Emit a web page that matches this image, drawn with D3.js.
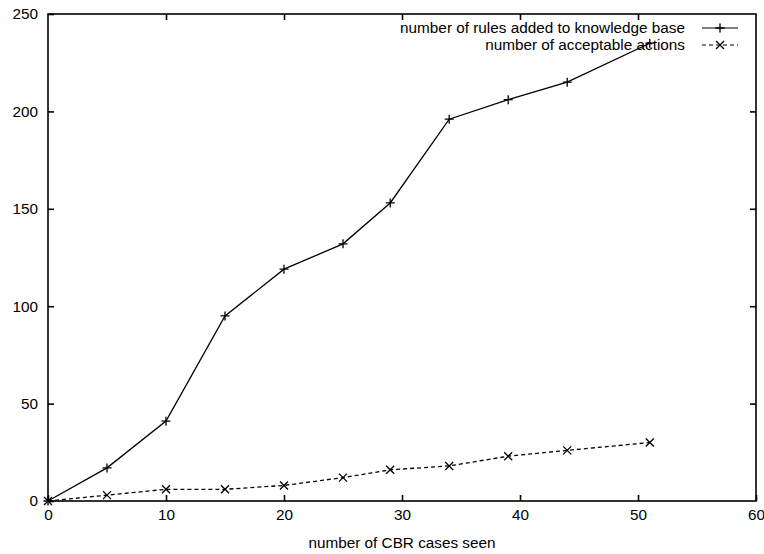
<!DOCTYPE html>
<html>
<head>
<meta charset="utf-8">
<script src="https://cdn.jsdelivr.net/npm/d3@7"></script>
<style>
  body { margin: 0; background: #fff; }
  text { font-family: "Liberation Sans", Arial, sans-serif; fill: #000; }
</style>
</head>
<body>
<div id="chart"></div>
<script>
// values
const casesSeen = [0, 5, 10, 15, 20, 25, 29, 34, 39, 44, 51]
const rulesAdded = [0, 17, 41, 95, 119, 132, 153, 196, 206, 215, 235]
const acceptableActions = [0, 3, 6, 6, 8, 12, 16, 18, 23, 26, 30]
const xTicks = [0, 10, 20, 30, 40, 50, 60]
const yTicks = [0, 50, 100, 150, 200, 250]
const seriesNames = ["number of rules added to knowledge base", "number of acceptable actions"]

const width = 764, height = 554
const margin = { top: 14, right: 8, bottom: 53, left: 48 }

const svg = d3.select("#chart")
  .append("svg")
  .attr("width", width)
  .attr("height", height)

const x = d3.scaleLinear()
  .domain([0, 60])
  .range([margin.left, width - margin.right])

const y = d3.scaleLinear()
  .domain([0, 250])
  .range([height - margin.bottom, margin.top])

const fontSize = 15.3

// frame
svg.append("rect")
  .attr("x", x(0))
  .attr("y", y(250))
  .attr("width", x(60) - x(0))
  .attr("height", y(0) - y(250))
  .attr("fill", "none")
  .attr("stroke", "#000")
  .attr("stroke-width", 1.6)

// inward ticks on all four sides, labels on left and bottom
const tickLen = 6
svg.append("g")
  .attr("transform", `translate(0,${y(0)})`)
  .call(d3.axisBottom(x).tickValues(xTicks).tickSizeInner(-tickLen).tickSizeOuter(0).tickPadding(8))
  .call(g => g.select(".domain").remove())
svg.append("g")
  .attr("transform", `translate(0,${y(250)})`)
  .call(d3.axisTop(x).tickValues(xTicks.slice(1, -1)).tickSizeInner(-tickLen).tickSizeOuter(0).tickFormat(""))
  .call(g => g.select(".domain").remove())
svg.append("g")
  .attr("transform", `translate(${x(0)},0)`)
  .call(d3.axisLeft(y).tickValues(yTicks).tickSizeInner(-tickLen).tickSizeOuter(0).tickPadding(10))
  .call(g => g.select(".domain").remove())
svg.append("g")
  .attr("transform", `translate(${x(60)},0)`)
  .call(d3.axisRight(y).tickValues(yTicks.slice(1, -1)).tickSizeInner(-tickLen).tickSizeOuter(0).tickFormat(""))
  .call(g => g.select(".domain").remove())

svg.selectAll(".tick line").attr("stroke", "#000").attr("stroke-width", 1.6)
svg.selectAll(".tick text")
  .style("font-family", '"Liberation Sans", Arial, sans-serif')
  .style("font-size", fontSize + "px")

// axis title
svg.append("text")
  .attr("x", (x(0) + x(60)) / 2)
  .attr("y", 548)
  .attr("text-anchor", "middle")
  .style("font-size", fontSize + "px")
  .text("number of CBR cases seen")

const line = d3.line()
  .x(d => x(d[0]))
  .y(d => y(d[1]))

const plusPath = s => `M${-s},0H${s}M0,${-s}V${s}`
const crossPath = s => `M${-s},${-s}L${s},${s}M${-s},${s}L${s},${-s}`

const series = [
  { name: seriesNames[0], values: rulesAdded, dash: null, marker: plusPath(4.5) },
  { name: seriesNames[1], values: acceptableActions, dash: "4,3", marker: crossPath(4) }
]

series.forEach((s, i) => {
  const pts = casesSeen.map((c, j) => [c, s.values[j]])
  svg.append("path")
    .datum(pts)
    .attr("d", line)
    .attr("fill", "none")
    .attr("stroke", "#000")
    .attr("stroke-width", 1.3)
    .attr("stroke-dasharray", s.dash)

  svg.append("g")
    .selectAll("path")
    .data(pts)
    .join("path")
    .attr("transform", d => `translate(${x(d[0])},${y(d[1])})`)
    .attr("d", s.marker)
    .attr("stroke", "#000")
    .attr("stroke-width", 1.3)
    .attr("fill", "none")

  // legend row
  const ly = 28 + i * 17
  svg.append("text")
    .attr("x", 685)
    .attr("y", ly)
    .attr("dy", "0.35em")
    .attr("text-anchor", "end")
    .style("font-size", fontSize + "px")
    .text(s.name)
  svg.append("line")
    .attr("x1", 702).attr("x2", 738)
    .attr("y1", ly).attr("y2", ly)
    .attr("stroke", "#000")
    .attr("stroke-width", 1.1)
    .attr("stroke-dasharray", s.dash)
  svg.append("path")
    .attr("transform", `translate(720,${ly})`)
    .attr("d", s.marker)
    .attr("stroke", "#000")
    .attr("stroke-width", 1.3)
    .attr("fill", "none")
})
</script>
</body>
</html>
